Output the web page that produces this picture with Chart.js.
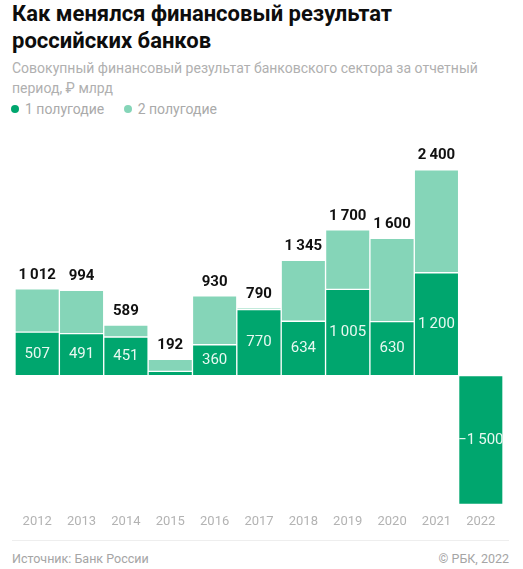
<!DOCTYPE html>
<html lang="ru">
<head>
<meta charset="utf-8">
<script src="https://cdn.jsdelivr.net/npm/chart.js@4/dist/chart.umd.min.js"></script>
<style>
  html, body { margin: 0; padding: 0; background: #fff; }
  body { width: 523px; height: 569px; position: relative; overflow: hidden; font-family: Roboto, "Noto Sans", sans-serif; }
  .title { position: absolute; left: 12px; top: 0px; width: 500px; font-size: 22px; line-height: 27px; font-weight: 700; color: #0d0d0d; }
  .sub { position: absolute; left: 12px; top: 58px; width: 505px; font-size: 14px; line-height: 20px; color: #b0b0b0; }
  .legend { position: absolute; left: 11px; top: 99px; font-size: 14px; line-height: 18px; color: #aaa; }
  .legend span { display: inline-flex; align-items: center; margin-right: 16px; }
  .legend i { display: inline-block; width: 8px; height: 8px; border-radius: 50%; margin-right: 6px; }
  .wrap { position: absolute; left: 0; top: 128px; width: 523px; height: 412px; }
  .rule { position: absolute; left: 12px; right: 14px; top: 540px; border-top: 1px solid #eeeeee; }
  .foot { position: absolute; top: 551px; font-size: 12.5px; line-height: 16px; color: #a5a5a5; }
</style>
</head>
<body>
<div class="title">Как менялся финансовый результат<br>российских банков</div>
<div class="sub">Совокупный финансовый результат банковского сектора за отчетный период, ₽ млрд</div>
<div class="legend">
  <span><i style="background:#00a66e"></i>1 полугодие</span>
  <span><i style="background:#85d5b8"></i>2 полугодие</span>
</div>
<div class="wrap"><canvas id="bankChart"></canvas></div>
<div class="rule"></div>
<div class="foot" style="left:12px">Источник: Банк России</div>
<div class="foot" style="right:14px">© РБК, 2022</div>

<script>
// years and half-year results, ₽ bn
const years = ['2012', '2013', '2014', '2015', '2016', '2017', '2018', '2019', '2020', '2021', '2022'];
const firstHalf = [507, 491, 451, 50, 360, 770, 634, 1005, 630, 1200, -1500];
const secondHalf = [505, 503, 138, 142, 570, 20, 711, 695, 970, 1200, null];
const yearTotals = [1012, 994, 589, 192, 930, 790, 1345, 1700, 1600, 2400, null];
// which first-half values get a label inside the bar
const showFirstLabel = [true, true, true, false, true, true, true, true, true, true, true];

const darkGreen = '#00a66e';
const lightGreen = '#85d5b8';

const fmt = v => {
  const s = String(Math.abs(v)).replace(/\B(?=(\d{3})+(?!\d))/g, '\u2009');
  return (v < 0 ? '\u2212' : '') + s;
};

const labelPlugin = {
  id: 'barLabels',
  afterDatasetsDraw(chart) {
    const ctx = chart.ctx;
    const m1 = chart.getDatasetMeta(0);
    const m2 = chart.getDatasetMeta(1);
    ctx.save();
    ctx.textAlign = 'center';
    ctx.textBaseline = 'middle';
    m1.data.forEach((bar, i) => {
      if (!showFirstLabel[i]) return;
      ctx.font = '400 15px Roboto, sans-serif';
      ctx.fillStyle = '#e8f8f1';
      ctx.fillText(fmt(firstHalf[i]), bar.x, (bar.y + bar.base) / 2);
    });
    m2.data.forEach((bar, i) => {
      if (yearTotals[i] == null) return;
      ctx.font = '700 15px Roboto, sans-serif';
      ctx.fillStyle = '#111';
      ctx.fillText(fmt(yearTotals[i]), bar.x, bar.y - 14);
    });
    ctx.restore();
  }
};

new Chart(document.getElementById('bankChart'), {
  type: 'bar',
  data: {
    labels: years,
    datasets: [
      {
        label: '1 полугодие',
        data: firstHalf,
        backgroundColor: darkGreen,
        borderColor: '#ffffff',
        borderWidth: 1,
        borderSkipped: false,
        categoryPercentage: 1,
        barPercentage: 1,
      },
      {
        label: '2 полугодие',
        data: secondHalf,
        backgroundColor: lightGreen,
        borderColor: '#ffffff',
        borderWidth: 1,
        borderSkipped: false,
        categoryPercentage: 1,
        barPercentage: 1,
      },
    ],
  },
  options: {
    responsive: true,
    maintainAspectRatio: false,
    animation: false,
    layout: { padding: { left: 15, right: 20, top: 16, bottom: 0 } },
    scales: {
      x: {
        stacked: true,
        grid: { display: false, drawTicks: false },
        border: { display: false },
        ticks: { color: '#b3b3b3', font: { size: 13, family: 'Roboto' }, padding: 10 },
      },
      y: {
        stacked: true,
        display: false,
        min: -1500,
        max: 2700,
      },
    },
    plugins: {
      legend: { display: false },
      tooltip: { enabled: false },
    },
  },
  plugins: [labelPlugin],
});
</script>
</body>
</html>
